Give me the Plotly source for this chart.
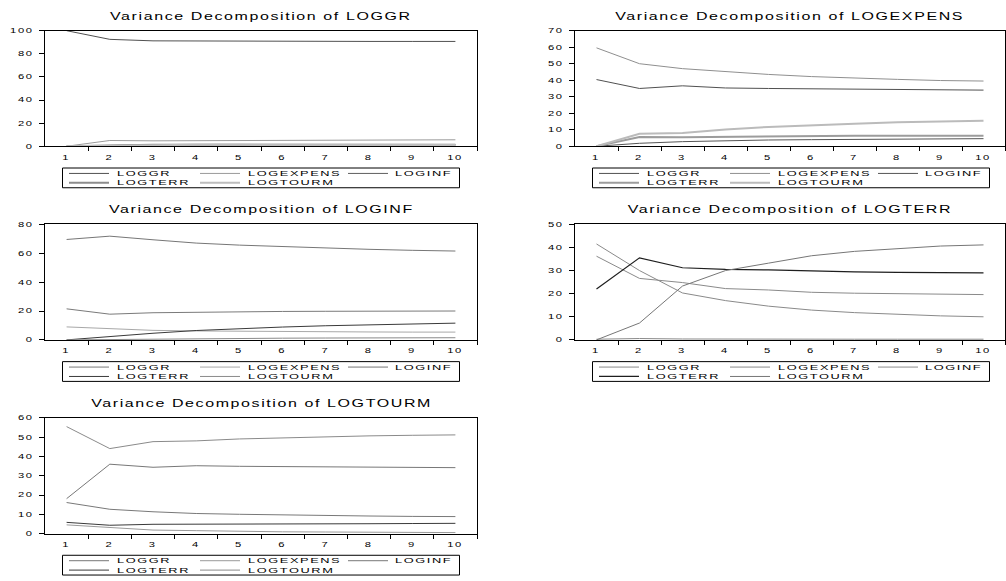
import plotly.graph_objects as go

# Forecast horizon (periods) and the shocks the variance is decomposed into
periods = list(range(1, 11))
shock_names = ["LOGGR", "LOGEXPENS", "LOGINF", "LOGTERR", "LOGTOURM"]

# Percent of forecast-error variance, one list per shock in shock_names order
vd_loggr = [
    [100.0, 92.5, 91.2, 91.0, 90.9, 90.8, 90.8, 90.7, 90.7, 90.7],
    [0.0, 5.0, 4.7, 4.8, 5.0, 5.1, 5.3, 5.4, 5.5, 5.6],
    [0.0, 1.0, 1.5, 1.6, 1.6, 1.7, 1.7, 1.7, 1.7, 1.7],
    [0.0, 0.9, 1.3, 1.3, 1.3, 1.3, 1.2, 1.2, 1.1, 1.0],
    [0.0, 0.6, 1.3, 1.3, 1.2, 1.1, 1.0, 1.0, 1.0, 1.0],
]
vd_logexpens = [
    [40.4, 35.0, 36.6, 35.3, 35.0, 34.8, 34.6, 34.4, 34.2, 34.0],
    [59.6, 50.0, 47.0, 45.2, 43.5, 42.2, 41.2, 40.5, 39.8, 39.5],
    [0.0, 1.8, 2.8, 3.5, 3.8, 4.0, 4.2, 4.3, 4.5, 4.6],
    [0.0, 5.6, 5.5, 5.8, 6.0, 6.2, 6.3, 6.3, 6.4, 6.4],
    [0.0, 7.6, 8.1, 10.2, 11.7, 12.8, 13.7, 14.5, 15.1, 15.5],
]
vd_loginf = [
    [21.5, 17.8, 18.8, 19.2, 19.5, 19.7, 19.8, 19.9, 20.0, 20.0],
    [9.0, 7.6, 6.6, 6.2, 5.9, 5.7, 5.6, 5.5, 5.4, 5.4],
    [69.5, 71.8, 69.3, 67.0, 65.6, 64.5, 63.5, 62.7, 62.0, 61.5],
    [0.0, 2.5, 4.6, 6.5, 7.9, 8.9, 9.8, 10.5, 11.1, 11.6],
    [0.0, 0.3, 0.7, 1.1, 1.1, 1.2, 1.3, 1.4, 1.5, 1.5],
]
vd_logterr = [
    [41.5, 30.0, 20.3, 17.0, 14.6, 12.9, 11.8, 11.0, 10.4, 10.0],
    [36.2, 26.6, 24.8, 22.2, 21.6, 20.6, 20.2, 19.9, 19.7, 19.6],
    [0.3, 0.6, 0.4, 0.3, 0.3, 0.3, 0.3, 0.3, 0.3, 0.3],
    [22.0, 35.5, 31.2, 30.5, 30.3, 29.8, 29.4, 29.2, 29.0, 29.0],
    [0.0, 7.3, 23.3, 30.0, 33.2, 36.4, 38.3, 39.6, 40.6, 41.1],
]
vd_logtourm = [
    [18.1, 36.0, 34.4, 35.2, 34.9, 34.8, 34.6, 34.4, 34.3, 34.2],
    [4.5, 3.0, 1.8, 1.5, 1.1, 0.9, 0.8, 0.7, 0.6, 0.5],
    [16.1, 12.6, 11.3, 10.4, 10.0, 9.6, 9.3, 9.1, 8.9, 8.8],
    [5.8, 4.3, 4.8, 4.8, 4.9, 5.0, 5.0, 5.1, 5.2, 5.3],
    [55.5, 44.1, 47.7, 48.1, 49.1, 49.7, 50.3, 50.7, 51.0, 51.2],
]

responses = ["LOGGR", "LOGEXPENS", "LOGINF", "LOGTERR", "LOGTOURM"]
decompositions = [vd_loggr, vd_logexpens, vd_loginf, vd_logterr, vd_logtourm]
y_max = [100, 70, 80, 50, 60]
y_step = [20, 10, 20, 10, 10]

# ---- styling -------------------------------------------------------------
W, H = 1006, 581
FONT = "Arial, Liberation Sans, sans-serif"

# plot-area pixel boxes (left, top, right, bottom)
boxes = [(45, 27, 477, 144), (575, 27, 1005, 144),
         (45, 223, 477, 340), (575, 223, 1005, 340),
         (45, 419, 477, 536)]

line_colors = [
    ["#505050", "#9a9a9a", "#5e5e5e", "#8c8c8c", "#bdbdbd"],
    ["#505050", "#8f8f8f", "#555555", "#9c9c9c", "#bbbbbb"],
    ["#7a7a7a", "#a8a8a8", "#767676", "#3a3a3a", "#8a8a8a"],
    ["#8a8a8a", "#8a8a8a", "#8c8c8c", "#1e1e1e", "#767676"],
    ["#777777", "#9a9a9a", "#787878", "#3a3a3a", "#8a8a8a"],
]
line_widths = [
    [1, 1, 1, 2, 2],
    [1, 1, 1, 2, 2],
    [1, 1, 1, 1, 1],
    [1, 1, 1, 1.2, 1],
    [1, 1, 1, 1, 1],
]

# legend entry layout inside each box: (row, line start, line end, text start)
legend_slots = [(0, 6.5, 46.5, 53.5), (0, 137.5, 177.5, 184.5), (0, 285.5, 325.5, 331.5),
                (1, 6.5, 46.5, 53.5), (1, 137.5, 177.5, 184.5)]


def fx(p):
    return p / W


def fy(p):
    return 1 - p / H


fig = go.Figure()
layout = dict(
    width=W, height=H,
    margin=dict(l=0, r=0, t=0, b=0),
    paper_bgcolor="white", plot_bgcolor="white",
    showlegend=False,
    font=dict(family=FONT, color="black"),
)
shapes, annotations = [], []

for i, (resp, series) in enumerate(zip(responses, decompositions)):
    l, t, r, b = boxes[i]
    sfx = "" if i == 0 else str(i + 1)
    xname, yname = "x" + sfx, "y" + sfx

    for k, vals in enumerate(series):
        fig.add_trace(go.Scatter(
            x=periods, y=vals, mode="lines", name=shock_names[k],
            xaxis=xname, yaxis=yname,
            line=dict(color=line_colors[i][k], width=line_widths[i][k]),
            hoverinfo="skip",
        ))

    # ticks sit between periods; labels are shifted back onto the periods
    half_step_px = int(round((r - l) / (2 * len(periods))))
    layout["xaxis" + sfx] = dict(
        domain=[fx(l), fx(r)], anchor=yname,
        range=[0.5, len(periods) + 0.5],
        tickmode="array", tickvals=[p + 0.5 for p in periods],
        ticktext=[str(p) for p in periods],
        ticks="outside", ticklen=4, tickwidth=1, tickcolor="black",
        ticklabelshift=-half_step_px,
        showgrid=False, zeroline=False,
        showline=True, mirror=True, linecolor="black", linewidth=1,
        tickfont=dict(size=7, color="black", family=FONT),
        ticklabelstandoff=0,
    )
    layout["yaxis" + sfx] = dict(
        domain=[fy(b), fy(t)], anchor=xname,
        range=[0, y_max[i]], tickmode="linear", tick0=0, dtick=y_step[i],
        ticks="outside", ticklen=5, tickwidth=1, tickcolor="black",
        showgrid=False, zeroline=False,
        showline=True, mirror=True, linecolor="black", linewidth=1,
        tickfont=dict(size=7, color="black", family=FONT),
        ticklabelstandoff=4,
    )

    # panel title
    annotations.append(dict(
        text="Variance Decomposition of " + resp,
        x=fx((l + r) / 2), y=fy(t - 14.5), xref="paper", yref="paper",
        xanchor="center", yanchor="middle", showarrow=False,
        font=dict(size=10, color="black", family=FONT),
    ))

    # boxed legend below the panel
    bl = l + 17.5
    bt = b + 22
    shapes.append(dict(type="rect", xref="paper", yref="paper",
                       x0=fx(bl), x1=fx(bl + 397), y0=fy(bt + 20), y1=fy(bt),
                       line=dict(color="black", width=1), fillcolor="white",
                       layer="above"))
    for k, (row, x0, x1, xt) in enumerate(legend_slots):
        yc = bt + 5.5 + row * 9.5
        shapes.append(dict(type="line", xref="paper", yref="paper",
                           x0=fx(bl + x0), x1=fx(bl + x1), y0=fy(yc), y1=fy(yc),
                           line=dict(color=line_colors[i][k], width=line_widths[i][k]),
                           layer="above"))
        annotations.append(dict(
            text=shock_names[k], x=fx(bl + xt), y=fy(yc),
            xref="paper", yref="paper", xanchor="left", yanchor="middle",
            showarrow=False, align="left", borderpad=0,
            font=dict(size=8, color="black", family=FONT),
        ))

layout["shapes"] = shapes
layout["annotations"] = annotations
fig.update_layout(**layout)

# EViews-style wide lettering: stretch every SVG label horizontally about its anchor
widen_text = """
var gd = document.getElementById('{plot_id}');
function widen() {
  gd.querySelectorAll('svg text').forEach(function (t) {
    var tr = t.getAttribute('transform') || '';
    if (tr.indexOf('scale(') !== -1) return;
    var ax = parseFloat(t.getAttribute('x')) || 0;
    t.style.letterSpacing = '1px';
    t.setAttribute('transform',
      (tr + ' translate(' + ax + ',0) scale(1.6,1) translate(' + (-ax) + ',0)').trim());
  });
}
widen();
gd.on('plotly_afterplot', widen);
"""

fig.write_html("out.html", config={"displayModeBar": False}, post_script=widen_text)
